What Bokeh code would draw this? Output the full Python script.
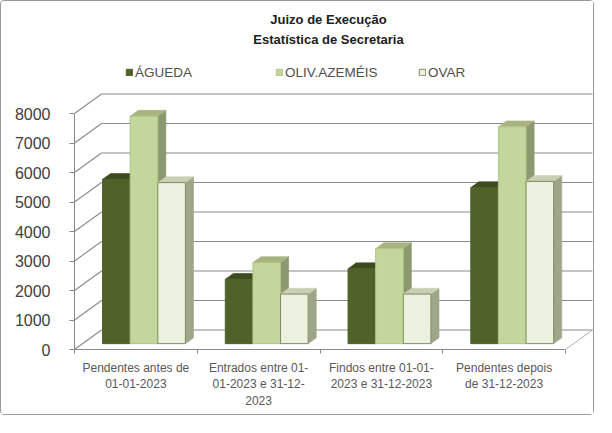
from bokeh.plotting import figure
from bokeh.models import Range1d, FixedTicker, Legend, LegendItem, Label
from bokeh.embed import file_html
from bokeh.resources import INLINE

# ---------------- data ----------------
categories = [
    "Pendentes antes de\n01-01-2023",
    "Entrados entre 01-\n01-2023 e 31-12-\n2023",
    "Findos entre 01-01-\n2023 e 31-12-2023",
    "Pendentes depois\nde 31-12-2023",
]
series_names = ["ÁGUEDA", "OLIV.AZEMÉIS", "OVAR"]
agueda = [5570, 2180, 2540, 5290]
oliv_azemeis = [7710, 2750, 3220, 7350]
ovar = [5460, 1680, 1680, 5500]
y_ticks = [0, 1000, 2000, 3000, 4000, 5000, 6000, 7000, 8000]
title_lines = ["Juizo de Execução", "Estatística de Secretaria"]

series_values = [agueda, oliv_azemeis, ovar]

# ---------------- styles ----------------
front_colors = ["#4F6228", "#C3D69B", "#EBF1DE"]
front_lines = ["#4F6228", "#B2C486", "#7F8C5F"]
top_colors = ["#3D4C1F", "#A7B47F", "#C9CFB4"]
side_colors = ["#35421B", "#8C9870", "#9DA689"]
grid_color = "#8A8A8A"
text_color = "#404040"
FONT = "Liberation Sans"

# ---------------- geometry (pixels of the page) ----------------
W, H = 594, 415          # canvas size
OX, OY = 9, 9            # canvas origin on the page (margin + border)
FL, FB = 82, 357         # front-left-bottom corner of the plot box
PX_CAT = 122.75          # pixels per category slot
PX_VAL = 236.0 / 8000.0  # pixels per unit of value


def X(px):
    return (px - FL) / PX_CAT


def Y(py):
    return (FB - py) / PX_VAL


DXW = 27.0 / PX_CAT      # wall depth in x
DYW = 19.5 / PX_VAL      # wall depth in y
D0 = 0.3                 # depth fraction of bar front plane
T = 0.3                  # bar depth fraction
BW = 0.225               # bar width (category units)
GAP = 1.0 - 3 * BW
ncat = len(categories)

p = figure(
    width=W, height=H,
    x_range=Range1d(X(FL), X(OX + W)),
    y_range=Range1d(Y(FB), Y(OY)),
    output_backend="svg", toolbar_location=None,
    min_border_left=FL - OX, min_border_bottom=H - (FB - OY),
    min_border_top=0, min_border_right=0,
    background_fill_color="white", border_fill_color="white",
)
p.outline_line_color = None
p.grid.visible = False
p.styles = {"border": "1px solid #9a9a9a", "border-radius": "4px"}

# ---------------- walls ----------------
ymax = y_ticks[-1]
# back wall gridlines
p.segment(x0=[DXW] * len(y_ticks), y0=[v + DYW for v in y_ticks],
          x1=[ncat + DXW] * len(y_ticks), y1=[v + DYW for v in y_ticks],
          line_color=grid_color, line_width=1.1)
# left wall diagonals
p.segment(x0=[0] * len(y_ticks), y0=y_ticks,
          x1=[DXW] * len(y_ticks), y1=[v + DYW for v in y_ticks],
          line_color=grid_color, line_width=1.1)
# floor right edge
p.segment(x0=[ncat], y0=[0], x1=[ncat + DXW], y1=[DYW],
          line_color="#B0B0B0", line_width=1)

# ---------------- bars ----------------
faces = []
for j, vals in enumerate(series_values):
    fl, fr, fb, ft = [], [], [], []
    txs, tys, sxs, sys_ = [], [], [], []
    for i, v in enumerate(vals):
        x0 = i + GAP / 2 + j * BW + D0 * DXW
        x1 = x0 + BW
        y0 = D0 * DYW
        y1 = y0 + v
        dx, dy = T * DXW, T * DYW
        fl.append(x0); fr.append(x1); fb.append(y0); ft.append(y1)
        txs.append([x0, x1, x1 + dx, x0 + dx])
        tys.append([y1, y1, y1 + dy, y1 + dy])
        sxs.append([x1, x1 + dx, x1 + dx, x1])
        sys_.append([y0, y0 + dy, y1 + dy, y1])
    faces.append((fl, fr, fb, ft, txs, tys, sxs, sys_))

for j, f in enumerate(faces):
    p.patches(xs=f[6], ys=f[7], fill_color=side_colors[j],
              line_color=side_colors[j], line_width=0.6)
for j, f in enumerate(faces):
    p.patches(xs=f[4], ys=f[5], fill_color=top_colors[j],
              line_color=top_colors[j], line_width=0.6)
front_renderers = []
for j, f in enumerate(faces):
    r = p.quad(left=f[0], right=f[1], bottom=f[2], top=f[3],
               fill_color=front_colors[j], line_color=front_lines[j],
               line_width=1)
    front_renderers.append(r)

# ---------------- axes ----------------
yax = p.yaxis[0]
yax.ticker = FixedTicker(ticks=y_ticks, minor_ticks=[])
yax.bounds = (0, ymax)
yax.axis_line_color = grid_color
yax.major_tick_line_color = grid_color
yax.major_tick_out = 5
yax.major_tick_in = 0
yax.minor_tick_line_color = None
yax.major_label_text_font = FONT
yax.major_label_text_font_size = "16px"
yax.major_label_text_color = text_color
yax.major_label_standoff = 19

xax = p.xaxis[0]
xax.ticker = FixedTicker(ticks=[i + 0.5 for i in range(ncat)],
                         minor_ticks=list(range(ncat + 1)))
xax.bounds = (0, ncat)
xax.major_label_overrides = {i + 0.5: c for i, c in enumerate(categories)}
xax.axis_line_color = grid_color
xax.major_tick_line_color = None
xax.major_tick_out = 0
xax.major_tick_in = 0
xax.minor_tick_line_color = grid_color
xax.minor_tick_out = 4
xax.minor_tick_in = 0
xax.major_label_text_font = FONT
xax.major_label_text_font_size = "12px"
xax.major_label_text_color = "#595959"
xax.major_label_standoff = 7

# ---------------- title ----------------
for k, t in enumerate(title_lines):
    p.add_layout(Label(x=X(336), y=Y(27 + 20 * k), text=t,
                       text_align="center", text_baseline="middle",
                       text_font=FONT, text_font_style="bold",
                       text_font_size="13px", text_color="#202020"))

# ---------------- legend ----------------
legend_px = [133, 283, 426]
for j, name in enumerate(series_names):
    lg = Legend(items=[LegendItem(label=name, renderers=[front_renderers[j]])],
                location=(legend_px[j] - FL, FB - 88),
                orientation="horizontal",
                padding=0, margin=0, spacing=0,
                glyph_width=8, glyph_height=8, label_standoff=2,
                label_height=16,
                label_text_font=FONT, label_text_font_size="13.5px",
                label_text_color="#505050",
                border_line_color=None, background_fill_alpha=0)
    p.add_layout(lg)

open("out.html", "w").write(file_html(p, INLINE))
